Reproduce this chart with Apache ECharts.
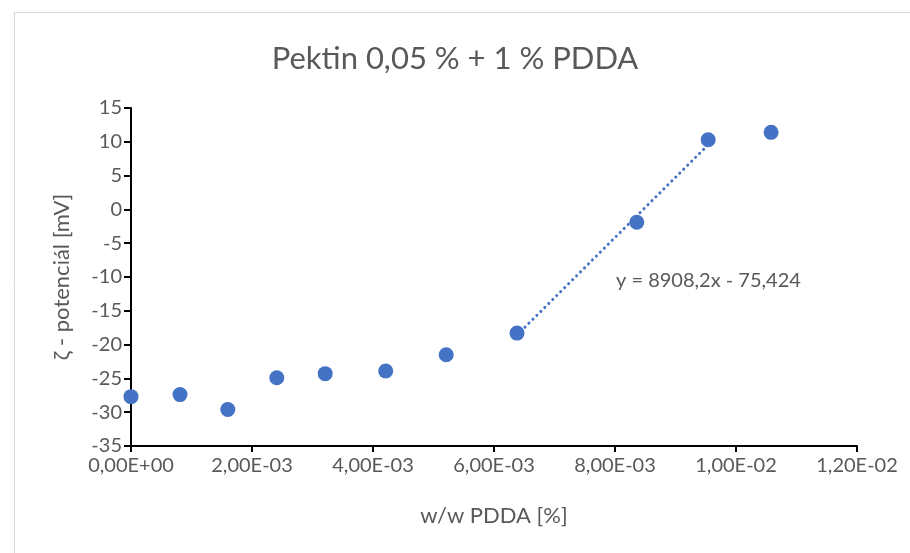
<!DOCTYPE html>
<html>
<head>
<meta charset="utf-8">
<script src="https://cdn.jsdelivr.net/npm/echarts@6/dist/echarts.min.js"></script>
<style>
  html, body { margin: 0; padding: 0; background: #fff; }
  #chart { width: 910px; height: 553px; }
</style>
</head>
<body>
<div id="chart"></div>
<script>
// measured points (w/w PDDA %, zeta potential mV)
const xValues = [0, 0.00081, 0.0016, 0.00241, 0.00321, 0.00421, 0.00521, 0.00638, 0.00836, 0.00954, 0.01058]
const yValues = [-27.7, -27.4, -29.6, -24.9, -24.3, -23.9, -21.5, -18.3, -1.9, 10.3, 11.4]

// linear trendline shown on the chart
const slope = 8908.2
const intercept = -75.424
const trendFrom = 0.00638
const trendTo = 0.00954

const textColor = '#595959'
const pointColor = '#4472C4'
const font = 'Lato'

const fmtExp = (v) => {
  if (v === 0) return '0,00E+00'
  const [m, e] = v.toExponential(2).split('e')
  const n = parseInt(e, 10)
  const ee = (n < 0 ? '-' : '+') + String(Math.abs(n)).padStart(2, '0')
  return m.replace('.', ',') + 'E' + ee
}

const chart = echarts.init(document.getElementById('chart'))

chart.setOption({
  backgroundColor: '#fff',
  animation: false,
  title: {
    text: 'Pektin 0,05 % + 1 % PDDA',
    left: 'center',
    top: 38,
    textStyle: { fontFamily: font, fontSize: 31, fontWeight: 'normal', color: textColor }
  },
  graphic: [
    {
      type: 'rect',
      shape: { x: 14.5, y: 12.5, width: 920, height: 560 },
      style: { fill: 'none', stroke: '#d9d9d9', lineWidth: 1 }
    },
    {
      type: 'text',
      left: 616,
      top: 271,
      style: { text: 'y = 8908,2x - 75,424', fontFamily: font, fontSize: 20, fill: textColor }
    }
  ],
  grid: { left: 131, right: 53, top: 108, bottom: 107 },
  xAxis: {
    type: 'value',
    min: 0,
    max: 0.012,
    interval: 0.002,
    name: 'w/w PDDA [%]',
    nameLocation: 'middle',
    nameGap: 59,
    nameTextStyle: { fontFamily: font, fontSize: 22, color: textColor },
    axisLine: { show: true, onZero: false, lineStyle: { color: '#000', width: 2 } },
    axisTick: { show: true, length: 6, lineStyle: { color: '#000', width: 2 } },
    axisLabel: { formatter: fmtExp, fontFamily: font, fontSize: 20, color: textColor, margin: 10 },
    splitLine: { show: false }
  },
  yAxis: {
    type: 'value',
    min: -35,
    max: 15,
    interval: 5,
    name: 'ζ - potenciál [mV]',
    nameLocation: 'middle',
    nameGap: 58,
    nameTextStyle: { fontFamily: font, fontSize: 22, color: textColor },
    axisLine: { show: true, onZero: false, lineStyle: { color: '#000', width: 2 } },
    axisTick: { show: true, length: 7, lineStyle: { color: '#000', width: 2 } },
    axisLabel: { fontFamily: font, fontSize: 20, color: textColor, margin: 9 },
    splitLine: { show: false }
  },
  series: [
    {
      type: 'line',
      data: [[trendFrom, slope * trendFrom + intercept], [trendTo, slope * trendTo + intercept]],
      symbol: 'none',
      lineStyle: { color: pointColor, width: 3, type: [0.1, 5.5], cap: 'round' },
      z: 1
    },
    {
      type: 'scatter',
      data: xValues.map((x, i) => [x, yValues[i]]),
      symbolSize: 15,
      itemStyle: { color: pointColor, opacity: 1 },
      z: 2
    }
  ]
})
</script>
</body>
</html>
